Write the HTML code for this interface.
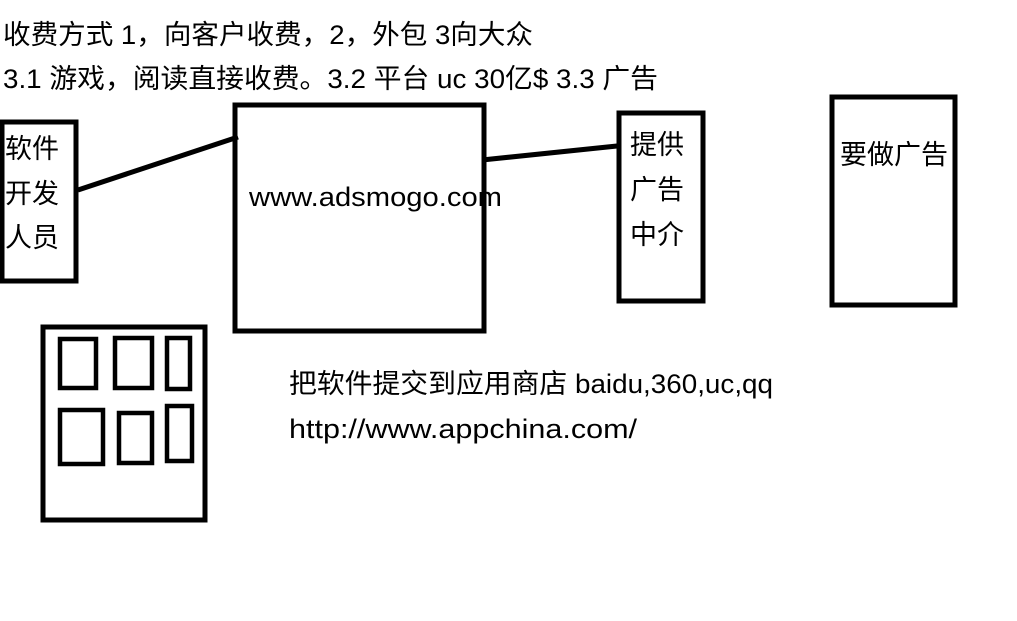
<!DOCTYPE html>
<html><head><meta charset="utf-8"><style>
html,body{margin:0;padding:0;background:#fff;width:1017px;height:621px;overflow:hidden}
text{font-family:"Liberation Sans","Noto Sans CJK SC",sans-serif;font-size:27px;fill:#000}
</style></head><body>
<svg width="1017" height="621" xmlns="http://www.w3.org/2000/svg">
<g fill="none" stroke="#000" stroke-width="5">
<rect x="2" y="122" width="74" height="159"/>
<rect x="235" y="105" width="249" height="226"/>
<rect x="619" y="113" width="84" height="188"/>
<rect x="832" y="97" width="123" height="208"/>
<rect x="43" y="327" width="162" height="193"/>
<rect x="60" y="339" width="36" height="49" stroke-width="4.5"/>
<rect x="115" y="338" width="37" height="50" stroke-width="4.5"/>
<rect x="167" y="338" width="23" height="51" stroke-width="4.5"/>
<rect x="60" y="410" width="43" height="54" stroke-width="4.5"/>
<rect x="119" y="413" width="33" height="50" stroke-width="4.5"/>
<rect x="167" y="406" width="25" height="55" stroke-width="4.5"/>
<line x1="78" y1="190" x2="238" y2="137"/>
<line x1="482" y1="160" x2="617" y2="146"/>
</g>
<text x="3" y="44" textLength="530" lengthAdjust="spacingAndGlyphs">收费方式 1，向客户收费，2，外包  3向大众</text>
<text x="3" y="88" textLength="655" lengthAdjust="spacingAndGlyphs">3.1 游戏，阅读直接收费。3.2 平台 uc 30亿$  3.3 广告</text>
<text x="5" y="158" textLength="54" lengthAdjust="spacingAndGlyphs">软件</text>
<text x="5" y="203" textLength="54" lengthAdjust="spacingAndGlyphs">开发</text>
<text x="5" y="247" textLength="54" lengthAdjust="spacingAndGlyphs">人员</text>
<text x="249" y="206" textLength="253" lengthAdjust="spacingAndGlyphs">www.adsmogo.com</text>
<text x="630" y="154" textLength="54" lengthAdjust="spacingAndGlyphs">提供</text>
<text x="630" y="199" textLength="54" lengthAdjust="spacingAndGlyphs">广告</text>
<text x="630" y="244" textLength="54" lengthAdjust="spacingAndGlyphs">中介</text>
<text x="840" y="164" textLength="108" lengthAdjust="spacingAndGlyphs">要做广告</text>
<text x="289" y="393" textLength="484" lengthAdjust="spacingAndGlyphs">把软件提交到应用商店 baidu,360,uc,qq</text>
<text x="289" y="438" textLength="348" lengthAdjust="spacingAndGlyphs">http://www.appchina.com/</text>
</svg>
</body></html>
